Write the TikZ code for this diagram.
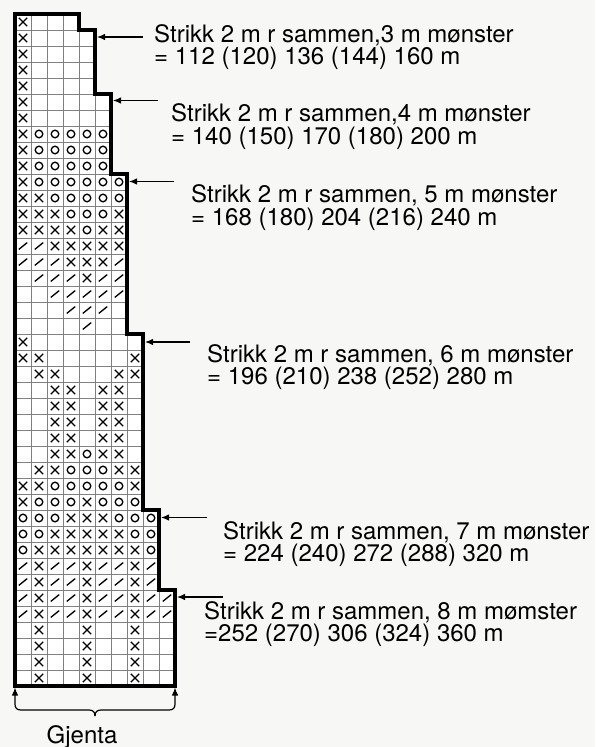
\documentclass[tikz,border=0pt]{standalone}
\usepackage{fontspec}
\setmainfont{TeX Gyre Heros}
\usetikzlibrary{arrows.meta}
\definecolor{bgc}{HTML}{F7F7F5}
\newcommand\mkX[2]{\draw[symb] ({16*#1+7-4.2},{16*#2+6-4.2}) -- ++(8.4,8.4) ({16*#1+7-4.2},{16*#2+6+4.2}) -- ++(8.4,-8.4);}
\newcommand\mkO[2]{\draw[symb] ({16*#1+7},{16*#2+6}) circle[radius=3.8pt];}
\newcommand\mkS[2]{\draw[symb] ({16*#1+7-4.2},{16*#2+6+3.4}) -- ++(8.4,-6.8);}
\def\chartoutline{(15,686) -- (15,14) -- (79,14) -- (79,30) -- (95,30) -- (95,94) -- (111,94) -- (111,174) -- (127,174) -- (127,334) -- (143,334) -- (143,510) -- (159,510) -- (159,590) -- (175,590) -- (175,686) -- cycle}
\begin{document}
\begin{tikzpicture}[x=1pt,y=-1pt,
  gridl/.style={line width=0.7pt, draw=black!50},
  outl/.style={line width=3.2pt, line join=miter},
  symb/.style={line width=1.35pt},
  arr/.style={line width=1.2pt, -{Latex[length=8pt,width=6.5pt]}},
  lbl/.style={anchor=base west, align=left, inner sep=0pt, font=\fontsize{24}{22.5}\selectfont}]
\fill[bgc] (0,0) rectangle (595,747);
\useasboundingbox (0,0) rectangle (595,747);
\fill[white] \chartoutline;
\begin{scope}
  \clip \chartoutline;
  \foreach \i in {0,...,10} \draw[gridl] ({15+16*\i},14) -- ({15+16*\i},686);
  \foreach \j in {0,...,42} \draw[gridl] (15,{14+16*\j}) -- (175,{14+16*\j});
\end{scope}
\foreach \r/\cells in {
  1/{x,e,e,e},
  2/{x,e,e,e,e},
  3/{x,e,e,e,e},
  4/{x,e,e,e,e},
  5/{x,e,e,e,e},
  6/{x,e,e,e,e,e},
  7/{x,e,e,e,e,e},
  8/{x,o,o,o,o,o},
  9/{x,o,o,o,o,o},
  10/{x,o,o,o,o,o},
  11/{x,o,o,o,o,o,o},
  12/{x,x,o,o,o,o,o},
  13/{x,x,x,o,o,o,x},
  14/{x,x,x,x,o,x,x},
  15/{s,s,x,x,x,x,x},
  16/{s,s,s,x,x,x,s},
  17/{e,s,s,s,x,s,s},
  18/{e,e,s,s,s,s,s},
  19/{e,e,e,s,s,s,e},
  20/{e,e,e,e,s,e,e},
  21/{x,e,e,e,e,e,e,e},
  22/{x,x,e,e,e,e,e,x},
  23/{e,x,x,e,e,e,x,x},
  24/{e,e,x,x,e,x,x,e},
  25/{e,e,x,x,e,x,x,e},
  26/{e,e,x,x,e,x,x,e},
  27/{e,e,x,x,e,x,x,e},
  28/{e,e,x,x,o,x,x,e},
  29/{e,x,x,o,o,o,x,x},
  30/{x,x,o,o,o,o,o,x},
  31/{x,o,o,o,x,o,o,o},
  32/{o,o,o,x,x,x,o,o,o},
  33/{o,o,x,x,x,x,x,o,o},
  34/{o,x,x,x,x,x,x,x,o},
  35/{s,x,s,s,x,s,s,x,s},
  36/{s,x,s,s,x,s,s,x,s},
  37/{s,x,s,s,x,s,s,x,s,s},
  38/{s,x,s,s,x,s,s,x,s,s},
  39/{e,x,e,e,x,e,e,x,e,e},
  40/{e,x,e,e,x,e,e,x,e,e},
  41/{e,x,e,e,x,e,e,x,e,e},
  42/{e,x,e,e,x,e,e,x,e,e}}{
  \foreach \s [count=\c] in \cells {
    \if\s x\mkX{\c}{\r}\fi
    \if\s o\mkO{\c}{\r}\fi
    \if\s s\mkS{\c}{\r}\fi
  }
}
\draw[outl] \chartoutline;
% labels (base anchor = baseline of the second line)
\node[lbl] (L1) at (154,64.8) {Strikk 2 m r sammen,3 m mønster\\= 112 (120) 136 (144) 160 m};
\node[lbl] (L2) at (171,144.2) {Strikk 2 m r sammen,4 m mønster\\= 140 (150) 170 (180) 200 m};
\node[lbl] (L3) at (191,225.2) {Strikk 2 m r sammen, 5 m mønster\\= 168 (180) 204 (216) 240 m};
\node[lbl] (L4) at (207,384.8) {Strikk 2 m r sammen, 6 m mønster\\= 196 (210) 238 (252) 280 m};
\node[lbl] (L5) at (223,561.5) {Strikk 2 m r sammen, 7 m mønster\\= 224 (240) 272 (288) 320 m};
\node[lbl] (L6) at (204,641.5) {Strikk 2 m r sammen, 8 m mømster\\=252 (270) 306 (324) 360 m};
% arrows
\coordinate (t1) at (143,37);    \coordinate (h1) at (97,37);
\coordinate (t2) at (158,100.5); \coordinate (h2) at (113,100.5);
\coordinate (t3) at (174,181.5); \coordinate (h3) at (129,181.5);
\coordinate (t4) at (190,342);   \coordinate (h4) at (145,342);
\coordinate (t5) at (207,517.5); \coordinate (h5) at (161,517.5);
\coordinate (t6) at (223,597);   \coordinate (h6) at (177,597);
\foreach \k in {1,...,6} \draw[arr] (t\k) -- (h\k);
% repeat brace
\coordinate (bl) at (15,687.5);
\coordinate (br) at (175,687.5);
\coordinate (bm) at (95,716);
\draw[arr] (bm) .. controls (95,712) and (93,710) .. (89,710) -- (21,710) .. controls (17,710) and (15,708) .. (15,704) -- (bl);
\draw[arr] (bm) .. controls (95,712) and (97,710) .. (101,710) -- (169,710) .. controls (173,710) and (175,708) .. (175,704) -- (br);
\node[anchor=base west, inner sep=0pt, font=\fontsize{24}{22.5}\selectfont] (G) at (46.5,743.3) {Gjenta};
\end{tikzpicture}
\end{document}
